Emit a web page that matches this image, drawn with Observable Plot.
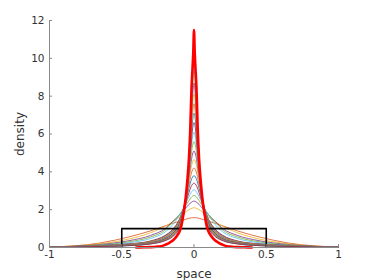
<!DOCTYPE html>
<html>
<head>
<meta charset="utf-8">
<script src="https://cdn.jsdelivr.net/npm/d3@7"></script>
<script src="https://cdn.jsdelivr.net/npm/@observablehq/plot@0.6"></script>
<style>
  html, body { margin: 0; padding: 0; background: #fff; }
  #chart svg { display: block; }
</style>
</head>
<body>
<div id="chart"></div>
<script>
// ---- tick values ----
const xTicks = [-1, -0.5, 0, 0.5, 1];
const yTicks = [0, 2, 4, 6, 8, 10, 12];

// ---- initial density (black step) ----
const initX = [-0.5, -0.5, 0.5, 0.5];
const initY = [0, 1, 1, 0];

// ---- half-profiles (x >= 0) of the evolving densities ----
const halfX = [0, 0.01, 0.02, 0.035, 0.05, 0.07, 0.1, 0.15, 0.2, 0.3, 0.45, 0.65, 1.0];
const d01 = [1.58, 1.575, 1.565, 1.545, 1.51, 1.46, 1.39, 1.27, 1.14, 0.88, 0.56, 0.24, 0.02];
const d02 = [2.1, 2.09, 2.06, 2.0, 1.92, 1.8, 1.62, 1.35, 1.12, 0.78, 0.45, 0.2, 0.02];
const d03 = [2.45, 2.43, 2.38, 2.28, 2.15, 1.97, 1.72, 1.36, 1.0, 0.64, 0.36, 0.16, 0.02];
const d04 = [2.75, 2.72, 2.64, 2.48, 2.3, 2.07, 1.75, 1.32, 0.92, 0.56, 0.3, 0.14, 0.02];
const d05 = [3.05, 3.01, 2.9, 2.68, 2.44, 2.12, 1.72, 1.18, 0.82, 0.48, 0.25, 0.12, 0.02];
const d06 = [3.4, 3.35, 3.22, 2.9, 2.53, 2.06, 1.5, 0.94, 0.64, 0.35, 0.19, 0.11, 0.02];
const d07 = [3.8, 3.73, 3.55, 3.13, 2.67, 2.11, 1.49, 0.91, 0.61, 0.33, 0.18, 0.1, 0.02];
const d08 = [4.2, 4.11, 3.87, 3.34, 2.77, 2.13, 1.47, 0.87, 0.58, 0.32, 0.17, 0.09, 0.02];
const d09 = [4.65, 4.53, 4.21, 3.54, 2.86, 2.14, 1.44, 0.84, 0.55, 0.3, 0.16, 0.09, 0.02];
const d10 = [5.1, 4.94, 4.53, 3.71, 2.93, 2.14, 1.41, 0.81, 0.53, 0.28, 0.15, 0.08, 0.02];
const d11 = [5.6, 5.39, 4.86, 3.86, 2.97, 2.12, 1.37, 0.77, 0.5, 0.27, 0.14, 0.08, 0.02];
const d12 = [6.1, 5.83, 5.17, 3.99, 3.0, 2.09, 1.33, 0.74, 0.48, 0.26, 0.13, 0.075, 0.02];
const d13 = [6.6, 6.27, 5.46, 4.08, 3.0, 2.06, 1.29, 0.72, 0.46, 0.25, 0.13, 0.07, 0.02];
const d14 = [7.1, 6.69, 5.72, 4.16, 2.99, 2.02, 1.25, 0.69, 0.44, 0.235, 0.12, 0.07, 0.02];
const d15 = [7.6, 7.1, 5.96, 4.21, 2.98, 1.98, 1.21, 0.67, 0.43, 0.23, 0.12, 0.066, 0.02];
const d16 = [8.1, 7.5, 6.17, 4.25, 2.95, 1.94, 1.18, 0.64, 0.41, 0.22, 0.11, 0.064, 0.02];
const d17 = [8.7, 7.97, 6.4, 4.28, 2.92, 1.9, 1.14, 0.62, 0.4, 0.21, 0.11, 0.06, 0.02];
const d18 = [9.3, 8.42, 6.61, 4.29, 2.88, 1.85, 1.11, 0.6, 0.38, 0.2, 0.105, 0.059, 0.02];
const d19 = [9.85, 8.81, 6.77, 4.28, 2.84, 1.81, 1.07, 0.58, 0.37, 0.19, 0.1, 0.056, 0.02];
const d20 = [10.4, 9.2, 6.91, 4.27, 2.81, 1.77, 1.05, 0.56, 0.36, 0.19, 0.097, 0.055, 0.02];

// ---- final density (thick red), half-profile ----
const finalX = [0, 0.005, 0.01, 0.017, 0.026, 0.035, 0.046, 0.058, 0.069, 0.08, 0.09, 0.1, 0.12, 0.135, 0.16, 0.18, 0.2, 0.227, 0.26, 0.3, 0.35, 0.4];
const finalY = [11.5, 10.3, 9.5, 8.45, 6.2, 4.7, 3.55, 2.6, 1.96, 1.45, 1.07, 0.85, 0.6, 0.46, 0.3, 0.2, 0.14, 0.07, 0.04, 0.02, 0.01, 0];

// MATLAB default colour order
const lineColors = ["#0072BD", "#D95319", "#EDB120", "#7E2F8E", "#77AC30", "#4DBEEE", "#A2142F"];

// ---- build tables (profiles are symmetric about 0) ----
const thin = [d01, d02, d03, d04, d05, d06, d07, d08, d09, d10, d11, d12, d13, d14, d15, d16, d17, d18, d19, d20];
function mirror(xs, ys) {
  const rows = [];
  for (let i = xs.length - 1; i > 0; i--) rows.push({x: -xs[i], y: ys[i]});
  for (let i = 0; i < xs.length; i++) rows.push({x: xs[i], y: ys[i]});
  return rows;
}
const thinRows = thin.flatMap((ys, k) => mirror(halfX, ys).map(r => ({...r, k, c: lineColors[(k + 1) % lineColors.length]})));
const finalRows = mirror(finalX, finalY);
const initRows = initX.map((x, i) => ({x, y: initY[i]}));

const font = "'DejaVu Sans', sans-serif";
const chart = Plot.plot({
  width: 374,
  height: 280,
  marginLeft: 49,
  marginRight: 36,
  marginTop: 20,
  marginBottom: 33,
  style: {fontFamily: font, fontSize: "10.5px", color: "#333", background: "#fff"},
  x: {domain: [-1, 1]},
  y: {domain: [0, 12]},
  marks: [
    Plot.line(thinRows, {x: "x", y: "y", z: "k", stroke: "c", strokeWidth: 0.8, curve: "monotone-x"}),
    Plot.line(initRows, {x: "x", y: "y", stroke: "#000", strokeWidth: 1.6}),
    Plot.line(finalRows, {x: "x", y: "y", stroke: "#ff0000", strokeWidth: 2.6, curve: "monotone-x"}),
    Plot.ruleY([0], {stroke: "#8a8a8a", strokeWidth: 1}),
    Plot.ruleX([-1], {stroke: "#8a8a8a", strokeWidth: 1}),
    Plot.axisX({ticks: xTicks, tickFormat: d => String(d), tickSize: -3, tickPadding: 6, stroke: "#8a8a8a",
      label: null, fontSize: 10.5}),
    Plot.axisX({ticks: [], label: "space", labelAnchor: "center", labelArrow: "none", labelOffset: 30, fontSize: 12}),
    Plot.axisY({ticks: yTicks, tickFormat: d => String(d), tickSize: -3, tickPadding: 8, stroke: "#8a8a8a",
      label: null, fontSize: 10.5}),
    Plot.axisY({ticks: [], label: "density", labelAnchor: "center", labelArrow: "none", labelOffset: 34, fontSize: 12})
  ]
});
document.getElementById("chart").appendChild(chart);
</script>
</body>
</html>
